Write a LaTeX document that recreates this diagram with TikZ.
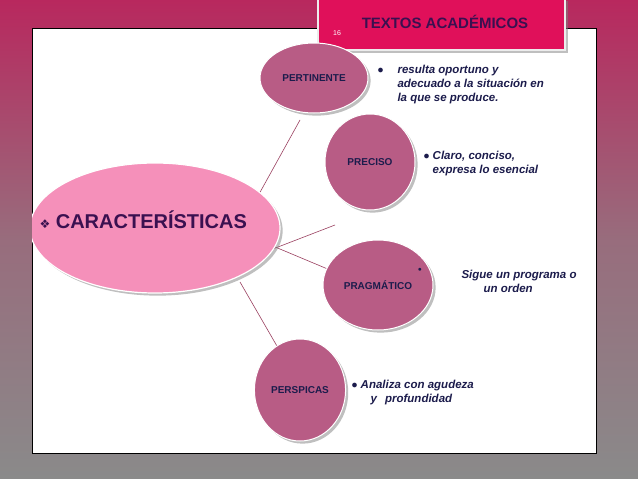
\documentclass[tikz,border=0pt]{standalone}
\usepackage{fontspec}
\setmainfont{Liberation Sans}
\newfontfamily\symfont{DejaVu Sans}
\usetikzlibrary{shapes.geometric,shadows}
\definecolor{bgtop}{HTML}{B8285E}
\definecolor{bgbot}{HTML}{8A8A8A}
\definecolor{titlebox}{HTML}{E0105A}
\definecolor{titletext}{HTML}{3A1050}
\definecolor{mainfill}{HTML}{F590BA}
\definecolor{subfill}{HTML}{B85C85}
\definecolor{ink}{HTML}{1C1C4C}
\definecolor{linkcol}{HTML}{9A4060}
\tikzset{
  mainnode/.style={ellipse, fill=mainfill, draw=white, line width=1.2pt, drop shadow,
    minimum width=250pt, minimum height=130pt},
  subnode/.style={ellipse, fill=subfill, draw=white, line width=1pt, drop shadow,
    font=\bfseries\fontsize{10}{11}\selectfont, text=ink},
  note/.style={align=left, anchor=west, font=\bfseries\itshape\fontsize{11.5}{14}\selectfont, text=ink},
  link/.style={draw=linkcol, line width=0.6pt}
}
\begin{document}
\begin{tikzpicture}[x=1pt, y=-1pt]
  % background and panel
  \useasboundingbox (0,0) rectangle (638,479);
  \shade[top color=bgtop, bottom color=bgbot, middle color=bgbot!70!bgtop] (0,0) rectangle (638,479);
  \fill[white] (32,28) rectangle (596,453);
  \draw[black, line width=0.8pt] (32,28) rectangle (596,453);
  \fill[titlebox, drop shadow] (318,-2) rectangle (565,50);
  \draw[white!85!gray, line width=1.5pt] (318,-2) -- (318,50) -- (565,50) -- (565,-2);
  \node[font=\bfseries\fontsize{15}{16}\selectfont, text=titletext] (title) at (445,22) {TEXTOS ACADÉMICOS};
  \node[font=\fontsize{7}{8}\selectfont, text=white] (page) at (337,33) {16};
  % edge ends
  \coordinate (c1) at (248,214);
  \coordinate (c2) at (265,252);
  \coordinate (c3) at (268,244);
  \coordinate (c4) at (240,282);
  \coordinate (p1) at (300,120);
  \coordinate (p2) at (335,225);
  \coordinate (p3) at (330,270);
  \coordinate (p4) at (285,360);
  % draw edges
  \draw[link] (c1) -- (p1);
  \draw[link] (c2) -- (p2);
  \draw[link] (c3) -- (p3);
  \draw[link] (c4) -- (p4);
  % place nodes
  \begin{scope}
    \clip (32,28) rectangle (596,453);
    \node[mainnode] (carac) at (155,228) {};
  \end{scope}
  \node[anchor=west, font=\fontsize{20}{22}\selectfont\bfseries, text=titletext] (caractext) at (36,220)
    {{\symfont\fontsize{12}{13}\selectfont ❖} CARACTERÍSTICAS};
  \node[subnode, minimum width=108pt, minimum height=70pt] (pert) at (314,78) {PERTINENTE};
  \node[subnode, minimum width=90pt, minimum height=96pt] (prec) at (370,162) {PRECISO};
  \node[subnode, minimum width=110pt, minimum height=90pt] (prag) at (378,285) {PRAGMÁTICO};
  \node[subnode, minimum width=90pt, minimum height=102pt] (persp) at (300,390) {PERSPICAS};
  % notes
  \node[note] (pertnote) at (374,85) {$\bullet$\hspace{14pt}\begin{tabular}[t]{@{}l@{}}resulta oportuno y\\adecuado a la situación en\\la que se produce.\end{tabular}};
  \node[note] (precnote) at (420,164) {$\bullet$ \begin{tabular}[t]{@{}l@{}}Claro, conciso,\\expresa lo esencial\end{tabular}};
  \node[note] (pragnote) at (458,281) {Sigue un programa o\\\hspace{22pt}un orden};
  \node[font=\fontsize{7}{8}\selectfont, text=ink] (pragdot) at (420,270) {$\bullet$};
  \node[note] (perspnote) at (348,393) {$\bullet$ \begin{tabular}[t]{@{}l@{}}Analiza con agudeza\\\hspace{10pt}y\hspace{8pt}profundidad\end{tabular}};
\end{tikzpicture}
\end{document}
